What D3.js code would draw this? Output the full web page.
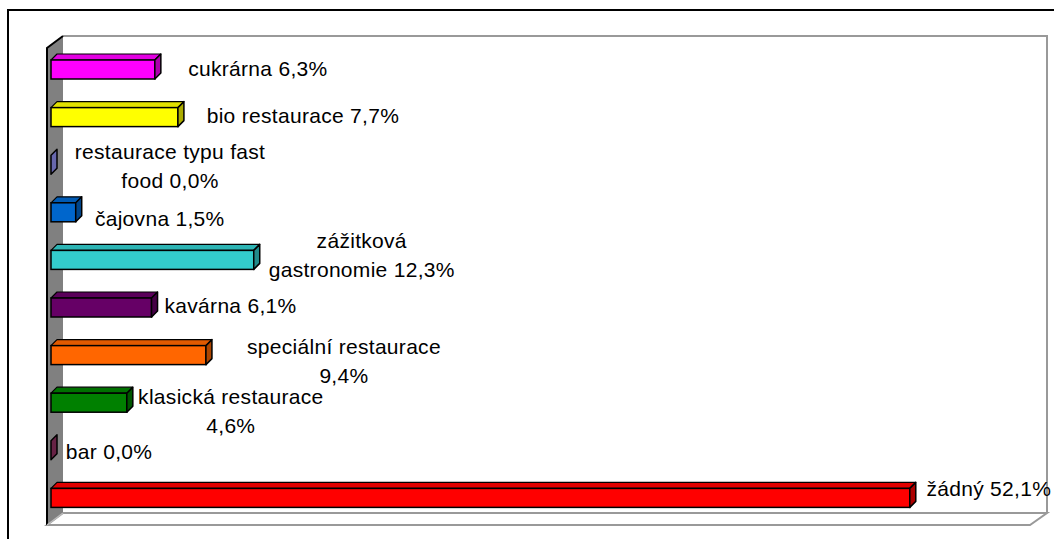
<!DOCTYPE html>
<html>
<head>
<meta charset="utf-8">
<script src="https://cdn.jsdelivr.net/npm/d3@7"></script>
<style>
  html, body { margin: 0; padding: 0; background: #fff; }
  svg { display: block; }
  .lbl { font-family: "Liberation Sans", Arial, sans-serif; font-size: 21px; letter-spacing: 0.3px; fill: #000; }
</style>
</head>
<body>
<svg id="chart" width="1054" height="539"></svg>
<script>
// Categories from top to bottom
const categories = [
  "cukrárna", "bio restaurace", "restaurace typu fast food", "čajovna",
  "zážitková gastronomie", "kavárna", "speciální restaurace",
  "klasická restaurace", "bar", "žádný"
];
// Share of answers, in percent
const values = [6.3, 7.7, 0.0, 1.5, 12.3, 6.1, 9.4, 4.6, 0.0, 52.1];
// Data label text, one entry per line
const labelLines = [
  ["cukrárna 6,3%"],
  ["bio restaurace 7,7%"],
  ["restaurace typu fast", "food 0,0%"],
  ["čajovna 1,5%"],
  ["zážitková", "gastronomie 12,3%"],
  ["kavárna 6,1%"],
  ["speciální restaurace", "9,4%"],
  ["klasická restaurace", "4,6%"],
  ["bar 0,0%"],
  ["žádný 52,1%"]
];
const barColors = [
  "#FF00FF", "#FFFF00", "#9999FF", "#0066CC", "#33CCCC",
  "#660066", "#FF6600", "#008000", "#993366", "#FF0000"
];
// Label centre offsets from the bar end [dx, dy]
const labelOffsets = [
  [103, -1], [125, -1.5], [119, 1], [84, 6], [108, -5],
  [79, -2.5], [138, 6], [104, 8], [58, 1], [79, -9.5]
];

const svg = d3.select("#chart");

// Plot box geometry (front/back planes of the 3D box)
const front = { left: 47, right: 1030, top: 48, bottom: 525 };
const depth = { dx: 16, dy: -12 };

const x = d3.scaleLinear().domain([0, 60]).range([51, 1040]);
const y = d3.scaleBand().domain(categories).range([45.7, 521.7]).padding(0);
const barH = 19;
const bd = 6; // bar depth

// Outer chart frame
svg.append("rect")
  .attr("x", 8).attr("y", 10).attr("width", 1100).attr("height", 600)
  .attr("fill", "none").attr("stroke", "#000").attr("stroke-width", 2);

// Back wall outline
const bL = front.left + depth.dx, bT = front.top + depth.dy, bB = front.bottom + depth.dy, bR = front.right + depth.dx + 1;
svg.append("path")
  .attr("d", `M${bL},${bT}H${bR}V${bB}`)
  .attr("fill", "none").attr("stroke", "#999").attr("stroke-width", 2);

// Floor
svg.append("path")
  .attr("d", `M${front.left},${front.bottom}L${bL},${bB}H${bR}L${front.right},${front.bottom}Z`)
  .attr("fill", "#fff").attr("stroke", "#999").attr("stroke-width", 2);

// Left side wall
svg.append("path")
  .attr("d", `M${front.left},${front.top}L${bL},${bT}V${bB}L${front.left},${front.bottom}Z`)
  .attr("fill", "#808080").attr("stroke", "none");
svg.append("path")
  .attr("d", `M${front.left},${front.bottom}V${front.top}L${bL},${bT}`)
  .attr("fill", "none").attr("stroke", "#000").attr("stroke-width", 2);
svg.append("path")
  .attr("d", `M${front.left},${front.bottom}L${bL},${bB}`)
  .attr("fill", "none").attr("stroke", "#bbb").attr("stroke-width", 1.5);

// Bars
const bars = svg.append("g").selectAll("g")
  .data(categories.map((c, i) => ({ c, v: values[i], color: barColors[i] })))
  .join("g");

bars.each(function(d) {
  const g = d3.select(this);
  const x0 = x(0), x1 = x(d.v);
  const top = y(d.c) + y.bandwidth() / 2 - barH / 2;
  const bot = top + barH;
  const col = d3.color(d.color);
  const stroke = "#000";
  if (x1 > x0) {
    // top face
    g.append("path")
      .attr("d", `M${x0},${top}L${x0 + bd},${top - bd}H${x1 + bd}L${x1},${top}Z`)
      .attr("fill", col.darker(0.35)).attr("stroke", stroke).attr("stroke-width", 1.2).attr("stroke-linejoin", "round");
    // front face
    g.append("rect")
      .attr("x", x0).attr("y", top).attr("width", x1 - x0).attr("height", barH)
      .attr("fill", col).attr("stroke", stroke).attr("stroke-width", 1.5);
  }
  // side face
  g.append("path")
    .attr("d", `M${x1},${top}L${x1 + bd},${top - bd}V${bot - bd}L${x1},${bot}Z`)
    .attr("fill", col.darker(1.1)).attr("stroke", stroke).attr("stroke-width", 1.5).attr("stroke-linejoin", "round");
});

// Data labels
const lineGap = 29;
categories.forEach((c, i) => {
  const cx = x(values[i]) + labelOffsets[i][0];
  const cy = y(c) + y.bandwidth() / 2 + labelOffsets[i][1];
  const lines = labelLines[i];
  const t = svg.append("text").attr("class", "lbl").attr("text-anchor", "middle");
  lines.forEach((ln, k) => {
    t.append("tspan")
      .attr("x", cx)
      .attr("y", cy + (k - (lines.length - 1) / 2) * lineGap + 7.5)
      .text(ln);
  });
});
</script>
</body>
</html>
